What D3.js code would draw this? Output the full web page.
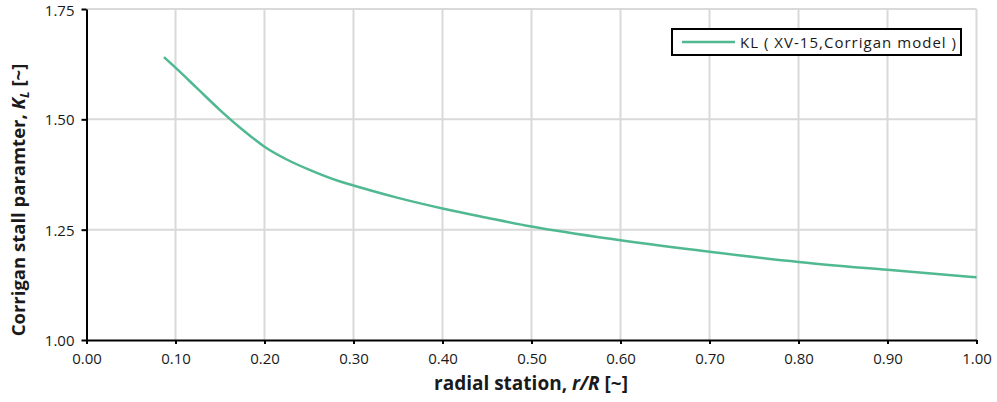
<!DOCTYPE html>
<html><head><meta charset="utf-8">
<script src="https://cdn.jsdelivr.net/npm/d3@7"></script>
<style>body{margin:0;background:#fff;} svg{display:block;font-family:"Open Sans",sans-serif;}</style>
</head><body><svg id="c" width="997" height="402"></svg>
<script>
const rR = [0.087,0.10,0.125,0.15,0.175,0.20,0.225,0.25,0.285,0.30,0.35,0.40,0.45,0.50,0.60,0.70,0.80,0.90,1.00];
const KL = [1.641,1.617,1.569,1.521,1.477,1.438,1.409,1.386,1.359,1.350,1.322,1.298,1.277,1.257,1.226,1.200,1.177,1.159,1.142];
const xTicks = [0,0.1,0.2,0.3,0.4,0.5,0.6,0.7,0.8,0.9,1.0];
const yTicks = [1.00,1.25,1.50,1.75];
const seriesName = "KL ( XV-15,Corrigan model )";

const svg = d3.select("#c");
const x = d3.scaleLinear().domain([0,1]).range([86.5,976.5]);
const y = d3.scaleLinear().domain([1,1.75]).range([340,9]);

const grid = svg.append("g");
grid.selectAll("line.v").data(xTicks.slice(1)).join("line")
  .attr("x1",d=>x(d)).attr("x2",d=>x(d)).attr("y1",y(1.75)).attr("y2",y(1))
  .attr("stroke","#d9d9d9").attr("stroke-width",2);
grid.selectAll("line.h").data(yTicks.slice(1)).join("line")
  .attr("x1",x(0)).attr("x2",x(1)).attr("y1",d=>y(d)).attr("y2",d=>y(d))
  .attr("stroke","#d9d9d9").attr("stroke-width",2);

const xAxis = svg.append("g").attr("transform",`translate(0,${y(1)})`)
  .call(d3.axisBottom(x).tickValues(xTicks).tickFormat(d3.format(".2f")).tickSize(4).tickSizeOuter(0));
const yAxis = svg.append("g").attr("transform",`translate(${x(0)},0)`)
  .call(d3.axisLeft(y).tickValues(yTicks).tickFormat(d3.format(".2f")).tickSize(5).tickSizeOuter(0));
[xAxis,yAxis].forEach(a=>{
  a.select(".domain").attr("stroke","#000").attr("stroke-width",2);
  a.selectAll(".tick line").attr("stroke","#000").attr("stroke-width",2);
  a.selectAll("text").attr("font-family","Open Sans").attr("font-size",15).attr("fill","#1a1a1a");
});
xAxis.selectAll("text").attr("dy","0.71em").attr("y",13);
yAxis.selectAll("text").attr("x",-12).attr("dy","0.36em");
yAxis.selectAll(".tick").filter(d=>d===1.75).select("text").attr("dy","0.45em");

svg.append("path").datum(rR.map((r,i)=>[r,KL[i]]))
  .attr("d",d3.line().x(d=>x(d[0])).y(d=>y(d[1])).curve(d3.curveMonotoneX))
  .attr("fill","none").attr("stroke","#50b991").attr("stroke-width",2.5);

// legend
const lg = svg.append("g");
lg.append("rect").attr("x",672).attr("y",29).attr("width",289).attr("height",26)
  .attr("fill","#fff").attr("stroke","#000").attr("stroke-width",2);
lg.append("line").attr("x1",682).attr("x2",735).attr("y1",42).attr("y2",42)
  .attr("stroke","#50b991").attr("stroke-width",2.5);
lg.append("text").attr("x",740).attr("y",48).attr("font-size",15).attr("fill","#1a1a1a")
  .attr("textLength",216).attr("lengthAdjust","spacing").text(seriesName);

// axis titles
const xt = svg.append("text").attr("x",531).attr("y",390).attr("text-anchor","middle")
  .attr("font-size",19).attr("font-weight","bold").attr("fill","#1a1a1a");
xt.append("tspan").text("radial station, ");
xt.append("tspan").attr("font-style","italic").text("r/R");
xt.append("tspan").text(" [~]");

const yt = svg.append("text").attr("transform","translate(25,200) rotate(-90)").attr("text-anchor","middle")
  .attr("font-size",18.5).attr("font-weight","bold").attr("fill","#1a1a1a");
yt.append("tspan").text("Corrigan stall paramter, ");
yt.append("tspan").attr("font-style","italic").text("K");
yt.append("tspan").attr("font-style","italic").attr("font-size",13).attr("dy",4).text("L");
yt.append("tspan").attr("dy",-4).text(" [~]");
</script></body></html>
